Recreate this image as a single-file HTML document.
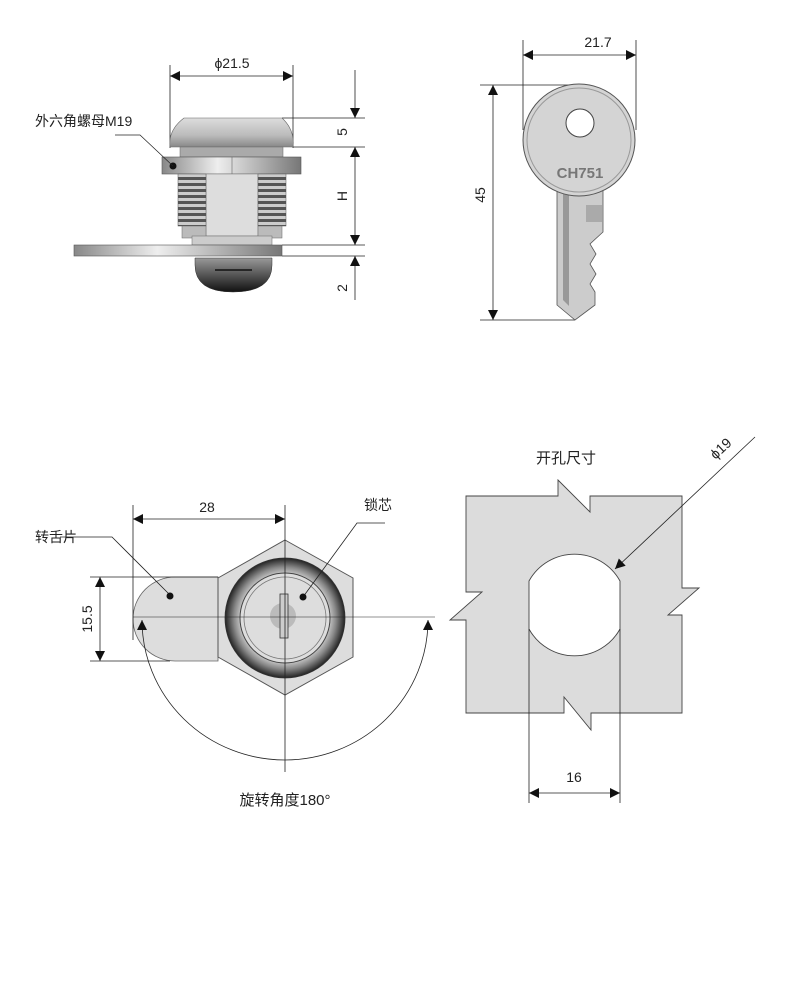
<!DOCTYPE html>
<html><head><meta charset="utf-8"><style>
html,body{margin:0;padding:0;background:#fff}
svg{display:block}
text{font-family:"Liberation Sans","Noto Sans CJK SC",sans-serif;fill:#222}
</style></head><body>
<svg width="788" height="1000" viewBox="0 0 788 1000" xmlns="http://www.w3.org/2000/svg">
<defs>
<marker id="a" viewBox="0 0 10 10" refX="10" refY="5" markerWidth="14" markerHeight="10" markerUnits="userSpaceOnUse" orient="auto-start-reverse"><path d="M0,0L10,5L0,10z" fill="#111"/></marker>
<linearGradient id="m" x1="0" x2="1"><stop offset="0" stop-color="#888"/><stop offset=".4" stop-color="#eee"/><stop offset="1" stop-color="#777"/></linearGradient>
<linearGradient id="dome" x1="0" y1="0" x2="0" y2="1"><stop offset="0" stop-color="#ddd"/><stop offset=".6" stop-color="#bbb"/><stop offset="1" stop-color="#888"/></linearGradient>
<linearGradient id="bdome" x1="0" y1="0" x2="0" y2="1"><stop offset="0" stop-color="#999"/><stop offset=".5" stop-color="#555"/><stop offset="1" stop-color="#111"/></linearGradient>
<pattern id="tp" width="20" height="6" patternUnits="userSpaceOnUse"><rect width="30" height="6" fill="#ccc"/><rect y="3" width="30" height="3" fill="#555"/></pattern>
<radialGradient id="ring" cx=".5" cy=".5" r=".5"><stop offset=".7" stop-color="#ddd"/><stop offset=".85" stop-color="#888"/><stop offset="1" stop-color="#222"/></radialGradient>
</defs>
<g stroke="#222" stroke-width="0.8" fill="none">
<line x1="170" y1="65" x2="170" y2="148"/><line x1="293" y1="65" x2="293" y2="148"/>
<line x1="170" y1="76" x2="293" y2="76" marker-start="url(#a)" marker-end="url(#a)"/>
<line x1="282" y1="118" x2="365" y2="118"/><line x1="293" y1="147" x2="365" y2="147"/>
<line x1="282" y1="245" x2="365" y2="245"/><line x1="282" y1="256" x2="365" y2="256"/>
<line x1="355" y1="70" x2="355" y2="118" marker-end="url(#a)"/>
<line x1="355" y1="147" x2="355" y2="245" marker-start="url(#a)" marker-end="url(#a)"/>
<line x1="355" y1="256" x2="355" y2="300" marker-start="url(#a)"/>
</g>
<path d="M184,118 L282,118 Q295,130 293,147 L170,147 Q168,130 184,118z" fill="url(#dome)" stroke="#666" stroke-width=".6"/>
<rect x="180" y="147" width="103" height="10" fill="#aaa" stroke="#666" stroke-width=".5"/>
<rect x="162" y="157" width="139" height="17" fill="url(#m)" stroke="#555" stroke-width=".6"/>
<line x1="232" y1="157" x2="232" y2="174" stroke="#666" stroke-width=".6"/>
<rect x="206" y="174" width="52" height="62" fill="#ddd" stroke="#777" stroke-width=".5"/>
<rect x="178" y="174" width="28" height="52" fill="url(#tp)" stroke="#555" stroke-width=".5"/>
<rect x="258" y="174" width="28" height="52" fill="url(#tp)" stroke="#555" stroke-width=".5"/>
<rect x="182" y="226" width="24" height="12" fill="#bbb" stroke="#666" stroke-width=".5"/>
<rect x="258" y="226" width="24" height="12" fill="#bbb" stroke="#666" stroke-width=".5"/>
<rect x="192" y="236" width="80" height="9" fill="#ccc" stroke="#666" stroke-width=".5"/>
<rect x="74" y="245" width="208" height="11" fill="url(#m)" stroke="#555" stroke-width=".6"/>
<path d="M195,258 L272,258 L272,265 Q272,292 233,292 Q195,292 195,265z" fill="url(#bdome)" stroke="#333" stroke-width=".5"/>
<line x1="215" y1="270" x2="252" y2="270" stroke="#111" stroke-width="1.5"/>
<circle cx="173" cy="166" r="3.5" fill="#111"/>
<polyline points="115,135 140,135 173,166" fill="none" stroke="#222" stroke-width=".7"/>
<text x="35" y="126" font-size="14">外六角螺母M19</text>
<text x="232" y="68" font-size="14" text-anchor="middle">ϕ21.5</text>
<text font-size="14" text-anchor="middle" transform="translate(347,132) rotate(-90)">5</text>
<text font-size="14" text-anchor="middle" transform="translate(347,196) rotate(-90)">H</text>
<text font-size="14" text-anchor="middle" transform="translate(347,288) rotate(-90)">2</text>

<g stroke="#222" stroke-width="0.8" fill="none">
<line x1="523" y1="40" x2="523" y2="130"/><line x1="636" y1="40" x2="636" y2="130"/>
<line x1="523" y1="55" x2="636" y2="55" marker-start="url(#a)" marker-end="url(#a)"/>
<line x1="480" y1="85" x2="580" y2="85"/><line x1="480" y1="320" x2="575" y2="320"/>
<line x1="493" y1="85" x2="493" y2="320" marker-start="url(#a)" marker-end="url(#a)"/>
</g>
<path d="M557,186 L557,305 L575,320 L595,305 L595,292 L590,284 L596,274 L590,264 L596,254 L590,244 L603,232 L603,186z" fill="#ccc" stroke="#555" stroke-width=".8"/>
<path d="M563,190 L563,300 L569,306 L569,190z" fill="#999"/>
<rect x="586" y="205" width="16" height="17" fill="#aaa"/>
<circle cx="579" cy="140" r="56" fill="#d4d4d4" stroke="#555" stroke-width="1"/>
<circle cx="579" cy="140" r="52" fill="none" stroke="#999" stroke-width="1"/>
<circle cx="580" cy="123" r="14" fill="#fff" stroke="#444" stroke-width="1"/>
<text x="580" y="178" font-size="15" font-weight="bold" text-anchor="middle" style="fill:#777">CH751</text>
<text x="598" y="47" font-size="14" text-anchor="middle">21.7</text>
<text font-size="14" text-anchor="middle" transform="translate(485,195) rotate(-90)">45</text>

<path d="M175,577 L218,577 L218,661 L175,661 A42,42 0 0 1 175,577z" fill="#ddd" stroke="#666" stroke-width=".8"/>
<polygon points="285,540 353,578 353,657 285,695 218,657 218,578" fill="#ddd" stroke="#555" stroke-width="1"/>
<circle cx="285" cy="618" r="60" fill="url(#ring)" stroke="#333" stroke-width=".8"/>
<circle cx="285" cy="618" r="45" fill="#ddd" stroke="#444" stroke-width="1"/>
<circle cx="285" cy="618" r="41" fill="none" stroke="#777" stroke-width=".8"/>
<circle cx="283" cy="616" r="13" fill="#bbb"/>
<rect x="280" y="594" width="8" height="44" fill="#ccc" stroke="#333" stroke-width=".8"/>
<g stroke="#222" stroke-width="0.8" fill="none">
<line x1="133" y1="505" x2="133" y2="640"/><line x1="285" y1="505" x2="285" y2="772"/>
<line x1="133" y1="519" x2="285" y2="519" marker-start="url(#a)" marker-end="url(#a)"/>
<line x1="90" y1="577" x2="218" y2="577"/><line x1="90" y1="661" x2="170" y2="661"/>
<line x1="100" y1="577" x2="100" y2="661" marker-start="url(#a)" marker-end="url(#a)"/>
<line x1="133" y1="617" x2="435" y2="617" stroke-width="0.6"/>
<path d="M142,620 A143,140 0 0 0 428,620" marker-start="url(#a)" marker-end="url(#a)"/>
<polyline points="60,537 112,537 170,595"/>
<polyline points="385,523 357,523 303,597"/>
</g>
<circle cx="170" cy="596" r="3.5" fill="#111"/>
<circle cx="303" cy="597" r="3.5" fill="#111"/>
<text x="35" y="542" font-size="14">转舌片</text>
<text x="378" y="510" font-size="14" text-anchor="middle">锁芯</text>
<text x="207" y="512" font-size="14" text-anchor="middle">28</text>
<text font-size="14" text-anchor="middle" transform="translate(92,619) rotate(-90)">15.5</text>
<text x="285" y="805" font-size="15" text-anchor="middle">旋转角度180°</text>

<path d="M466,496 L558,496 L558,480 L590,512 L590,496 L682,496 L682,588 L699,588 L668,615 L682,615 L682,713 L591,713 L591,730 L564,697 L564,713 L466,713 L466,620 L450,620 L482,592 L466,592z" fill="#dcdcdc" stroke="#444" stroke-width=".9"/>
<path d="M529,581 A52,52 0 0 1 620,581 L620,629 A52,52 0 0 1 529,629z" fill="#fff" stroke="#444" stroke-width=".9"/>
<g stroke="#222" stroke-width="0.8" fill="none">
<line x1="529" y1="629" x2="529" y2="803"/><line x1="620" y1="629" x2="620" y2="803"/>
<line x1="529" y1="793" x2="620" y2="793" marker-start="url(#a)" marker-end="url(#a)"/>
<line x1="755" y1="437" x2="615" y2="569" marker-end="url(#a)"/>
</g>
<text x="574" y="782" font-size="14" text-anchor="middle">16</text>
<text x="566" y="463" font-size="15" text-anchor="middle">开孔尺寸</text>
<text font-size="14" text-anchor="middle" transform="translate(724,452) rotate(-43)">ϕ19</text>
</svg>
</body></html>
